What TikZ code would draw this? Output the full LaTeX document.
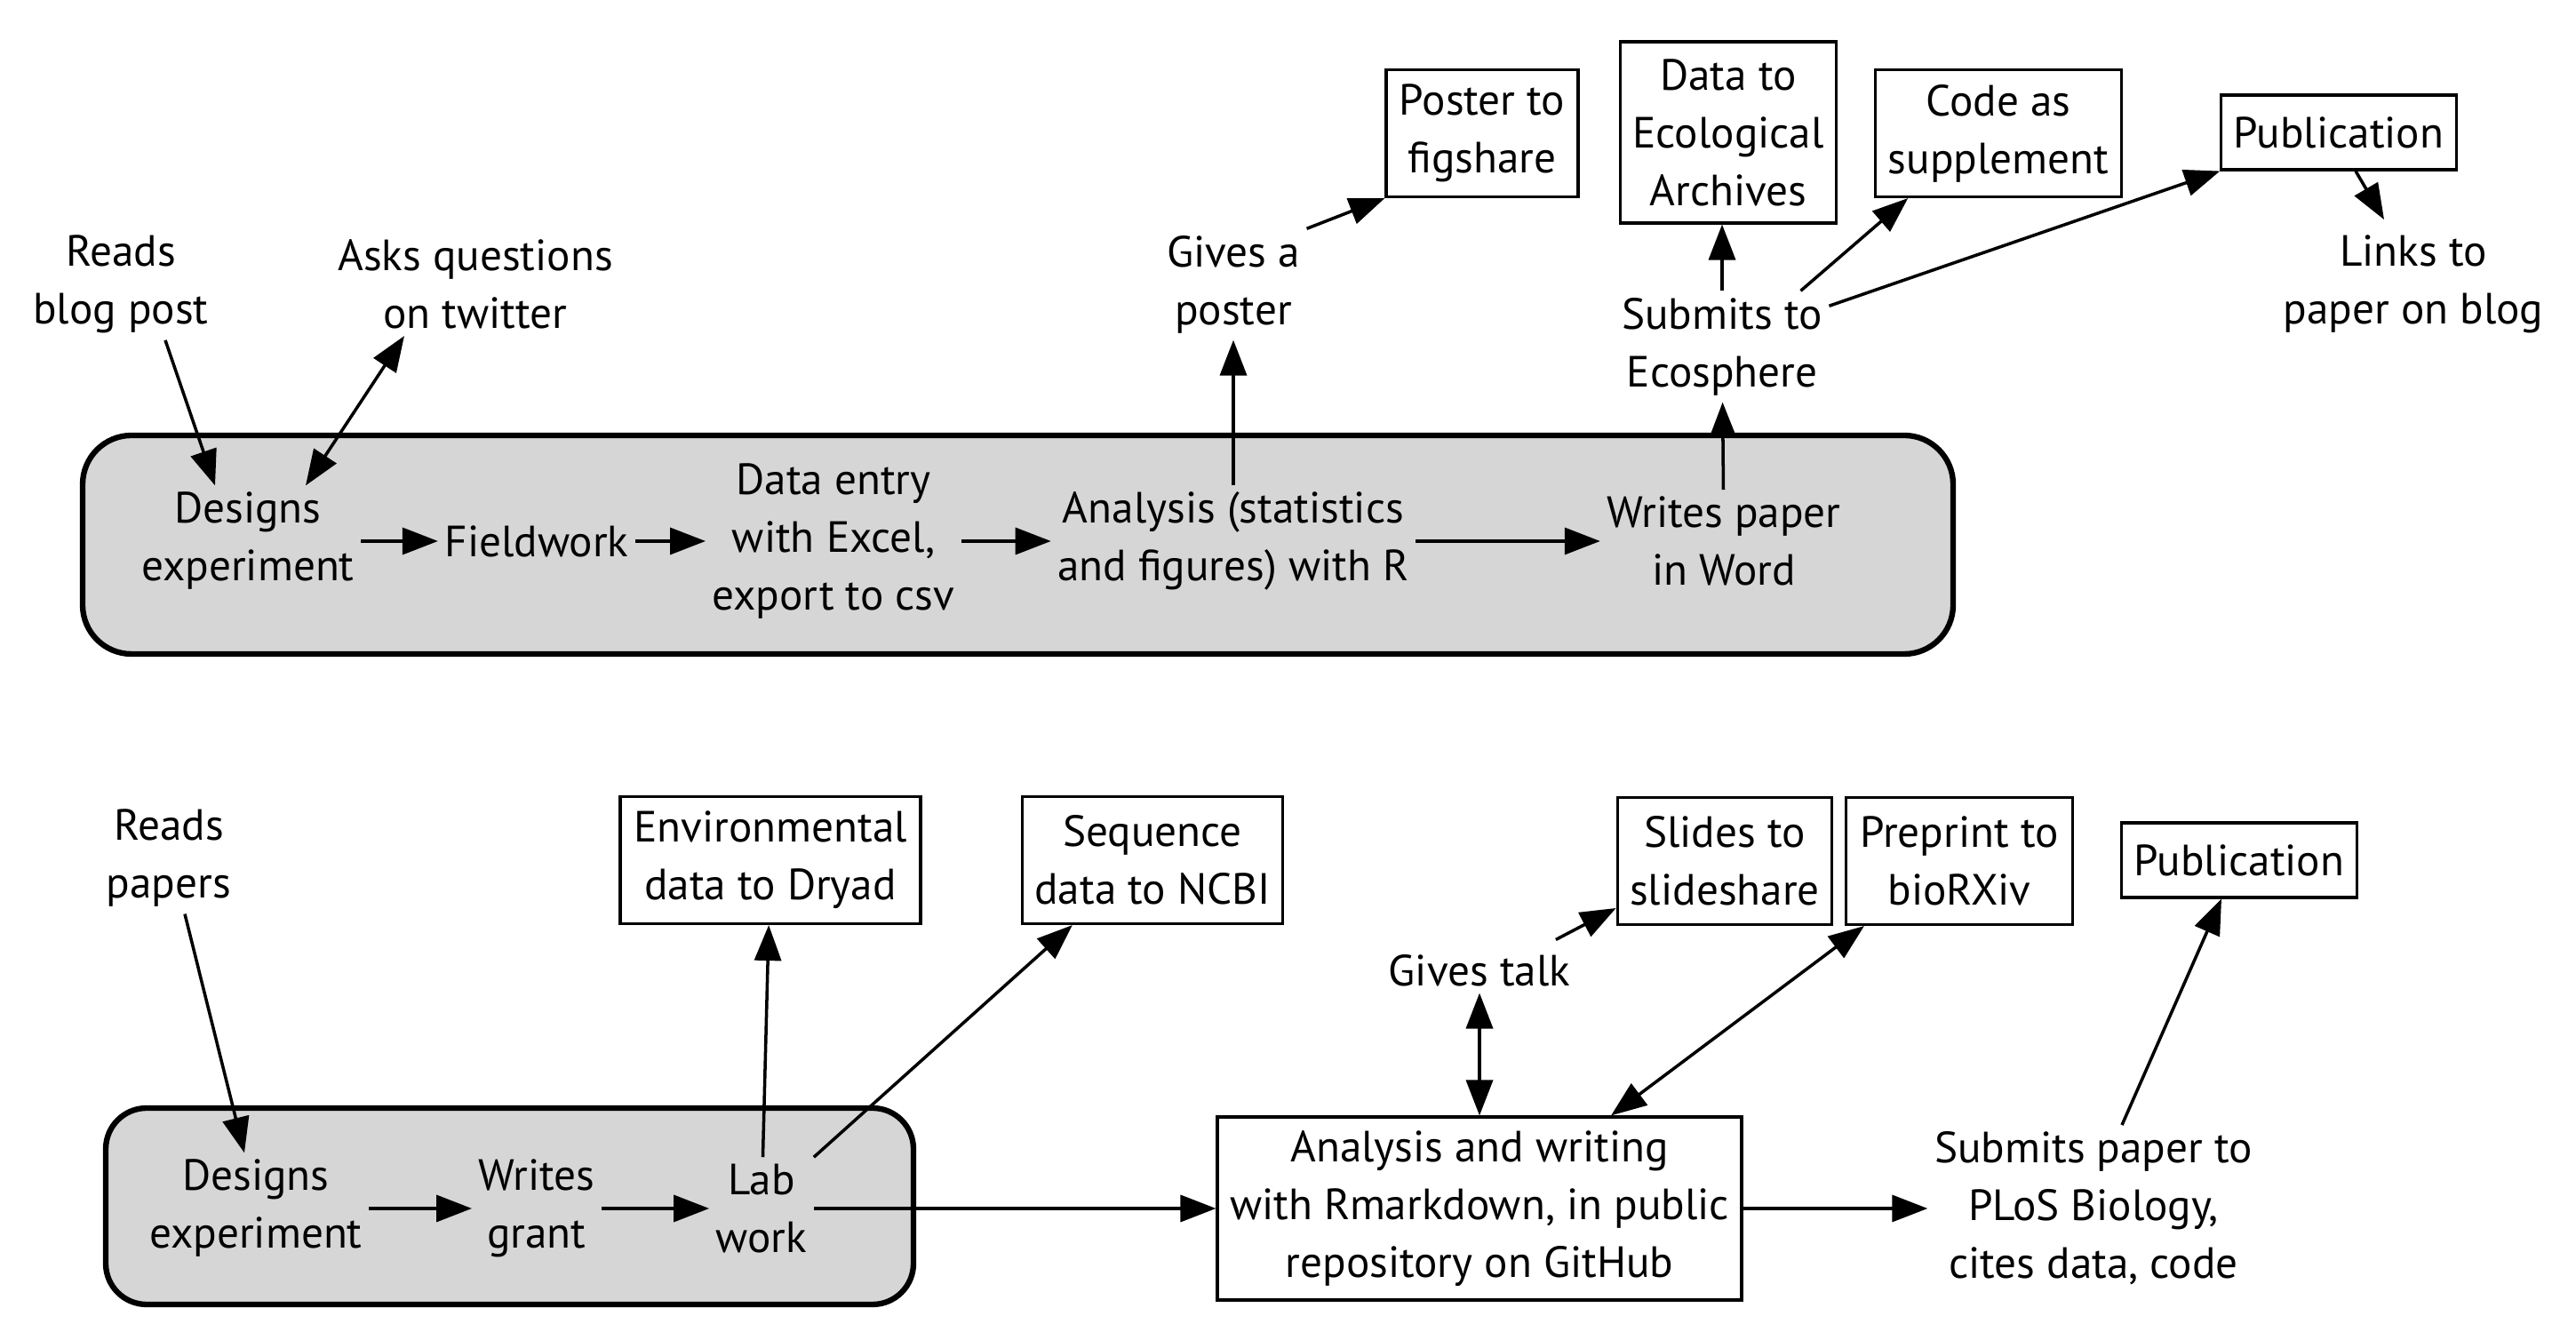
\documentclass[tikz,border=0pt]{standalone}
\usepackage{fontspec}
\setmainfont{PT Sans}
\usetikzlibrary{arrows.meta,positioning}
\definecolor{panelgray}{RGB}{214,214,214}

\begin{document}
\begin{tikzpicture}[
  font=\fontsize{14}{18.5}\selectfont,
  lbl/.style={align=center, inner sep=2pt},
  outbox/.style={lbl, draw, line width=0.9pt, inner xsep=4pt},
  oneline/.style={minimum height=0.84cm},
  twoline/.style={minimum height=1.43cm},
  arr/.style={line width=1pt, -{Triangle[length=0.4cm,width=0.3cm]}},
  darr/.style={line width=1pt, {Triangle[length=0.4cm,width=0.3cm]}-{Triangle[length=0.4cm,width=0.3cm]}},
  panel/.style={fill=panelgray, line width=1.8pt, rounded corners=0.55cm}
]
\useasboundingbox (0,0) rectangle (28.99,15.08);
\draw[panel] (0.93,7.72) rectangle (21.98,10.18); % Panel.old
\draw[panel, rounded corners=0.46cm] (1.19,0.40) rectangle (10.28,2.61); % Panel.new
% old workflow
\node[lbl] (design1) at (2.79,8.99) {Designs\\experiment}; % Step.design
\node[lbl] (field) at (6.04,8.99) {Fieldwork}; % Step.field
\node[lbl] (entry) at (9.38,8.99) {Data entry\\with Excel,\\export to csv}; % Step.entry
\node[lbl] (analysis1) at (13.88,8.99) {Analysis (statistics\\and figures) with R}; % Step.analysis
\node[lbl] (paper) at (19.40,8.99) {Writes paper\\in Word}; % Step.paper
\node[lbl] (readsblog) at (1.36,11.88) {Reads\\blog post}; % Out.blog
\node[lbl] (asks) at (5.35,11.88) {Asks questions\\on twitter}; % Out.twitter
\node[lbl] (poster) at (13.88,11.88) {Gives a\\poster}; % Out.poster
\node[lbl] (submits) at (19.38,11.18) {Submits to\\Ecosphere}; % Out.submit
\node[lbl] (links) at (27.16,11.88) {Links to\\paper on blog}; % Out.links
\node[outbox, twoline, minimum width=2.16cm] (figshare) at (16.68,13.58) {Poster to\\figshare}; % Box.figshare
\node[outbox, minimum width=2.41cm, minimum height=2.04cm] (ecoarch) at (19.45,13.59) {Data to\\Ecological\\Archives}; % Box.archives
\node[outbox, twoline, minimum width=2.71cm] (codesupp) at (22.49,13.58) {Code as\\supplement}; % Box.code
\node[outbox, oneline, minimum width=2.60cm] (pub1) at (26.32,13.59) {Publication}; % Box.pub
\draw[arr] ([xshift=0.5cm]readsblog.south) -- ([xshift=-0.37cm]design1.north);
\draw[darr] ([xshift=-0.8cm]asks.south) -- ([xshift=0.65cm]design1.north);
\draw[arr] (design1) -- (field);
\draw[arr] (field) -- (entry);
\draw[arr] (entry) -- (analysis1);
\draw[arr] (analysis1) -- (paper);
\draw[arr] (analysis1) -- (poster);
\draw[arr] (poster.north east) -- (figshare.south west);
\draw[arr] (paper) -- (submits);
\draw[arr] (submits) -- (submits |- ecoarch.south);
\draw[arr] ([xshift=-0.32cm]submits.north east) -- ([xshift=0.38cm]codesupp.south west);
\draw[arr] ([yshift=-0.17cm]submits.north east) -- (pub1.south west);
\draw[arr] ([xshift=0.19cm]pub1.south) -- ([xshift=-0.33cm, yshift=0.1cm]links.north);
% new workflow
\node[lbl] (design2) at (2.88,1.48) {Designs\\experiment}; % Step.design
\node[lbl] (grant) at (6.04,1.48) {Writes\\grant}; % Step.grant
\node[lbl] (lab) at (8.57,1.48) {Lab\\work}; % Step.lab
\node[lbl] (readspapers) at (1.90,5.42) {Reads\\papers}; % Out.papers
\node[lbl] (talk) at (16.65,4.16) {Gives talk}; % Out.talk
\node[lbl] (plos) at (23.56,1.48) {Submits paper to\\PLoS Biology,\\cites data, code}; % Out.plos
\node[outbox, twoline, minimum width=3.38cm] (dryad) at (8.67,5.40) {Environmental\\data to Dryad}; % Box.dryad
\node[outbox, twoline, minimum width=2.82cm] (ncbi) at (12.97,5.40) {Sequence\\data to NCBI}; % Box.ncbi
\node[outbox, minimum width=5.88cm, minimum height=2.06cm] (rmd) at (16.65,1.48) {Analysis and writing\\with Rmarkdown, in public\\repository on GitHub}; % Box.rmd
\node[outbox, twoline, minimum width=2.34cm] (slides) at (19.41,5.39) {Slides to\\slideshare}; % Box.slides
\node[outbox, twoline, minimum width=2.55cm] (preprint) at (22.05,5.39) {Preprint to\\bioRXiv}; % Box.preprint
\node[outbox, oneline, minimum width=2.60cm] (pub2) at (25.20,5.40) {Publication}; % Box.pub
\draw[arr] ([xshift=0.18cm]readspapers.south) -- ([xshift=-0.13cm]design2.north);
\draw[arr] (design2) -- (grant);
\draw[arr] (grant) -- (lab);
\draw[arr] (lab) -- (dryad);
\draw[arr] (lab.north east) -- ([xshift=0.58cm]ncbi.south west);
\draw[arr] (lab) -- (rmd);
\draw[darr] (talk) -- (rmd);
\draw[arr] ([xshift=-0.24cm, yshift=0.09cm]talk.north east) -- ([yshift=-0.53cm]slides.west);
\draw[darr] ([xshift=1.48cm]rmd.north) -- ([xshift=0.22cm]preprint.south west);
\draw[arr] (rmd) -- (plos);
\draw[arr] ([xshift=0.32cm]plos.north) -- ([xshift=-0.2cm]pub2.south);
\end{tikzpicture}
\end{document}
